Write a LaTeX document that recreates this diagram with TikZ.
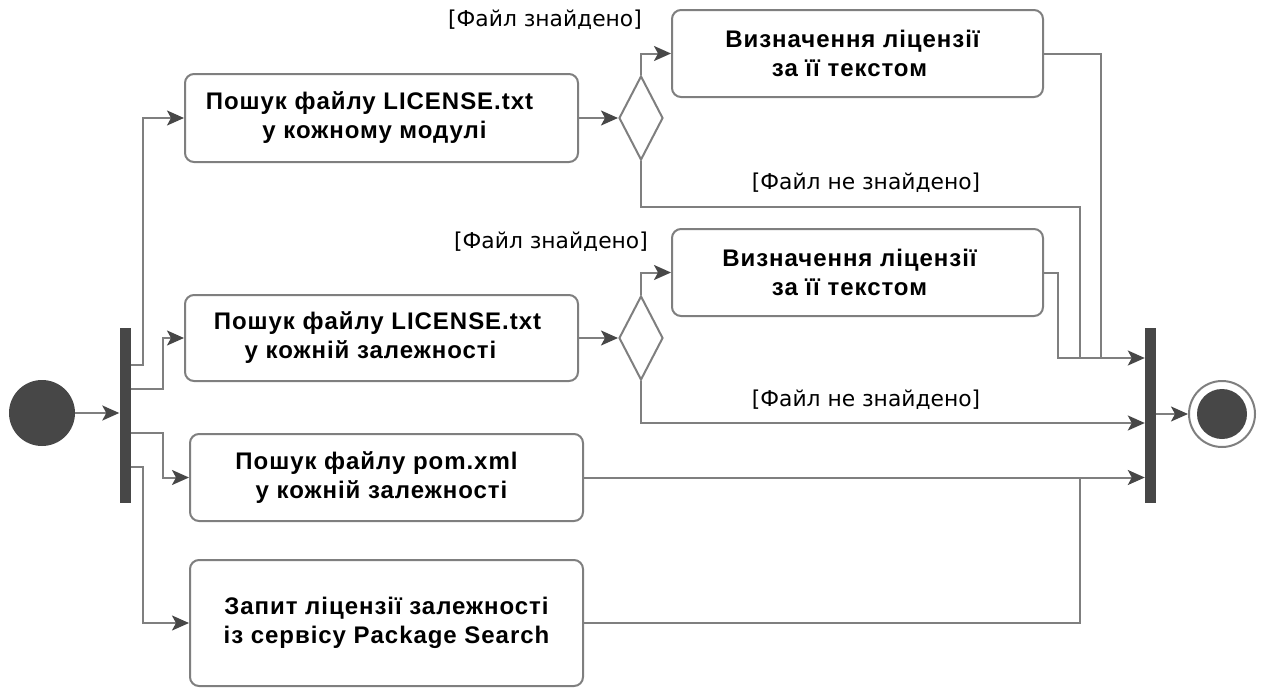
\documentclass[tikz,border=0pt]{standalone}
\usepackage{fontspec}
\setmainfont{Liberation Sans}
\newfontfamily\guardfont{DejaVu Sans}
\usetikzlibrary{arrows.meta,shapes.geometric}
\definecolor{ink}{HTML}{474747}
\definecolor{wire}{HTML}{7F7F7F}
\begin{document}
\begin{tikzpicture}[x=1pt,y=-1pt,
  act/.style={draw=wire, line width=2pt, rounded corners=9pt, fill=white,
    font=\addfontfeatures{LetterSpace=4}\bfseries\fontsize{24}{29}\selectfont, align=center, inner sep=0pt},
  choice/.style={diamond, draw=wire, line width=2pt, fill=white, inner sep=0pt,
    minimum width=44pt, minimum height=84pt},
  syncbar/.style={rectangle, fill=ink, draw=none, inner sep=0pt, minimum width=11pt, minimum height=175pt},
  flow/.style={draw=wire, line width=2pt, -{Stealth[length=17pt,width=15pt,inset=4pt,color=ink]}},
  wireline/.style={draw=wire, line width=2pt},
  guard/.style={font=\guardfont\fontsize{21.8}{24}\selectfont, text=black, inner sep=0pt}]
\useasboundingbox (0,0) rectangle (1261,688);

% start and end points
\node[circle, fill=ink, minimum size=66pt, inner sep=0pt] (init) at (42,413) {};
\node[syncbar] (fork) at (125,415) {};
\node[syncbar] (join) at (1150.5,415) {};
\node[circle, draw=wire, line width=2pt, fill=white, minimum size=66pt, inner sep=0pt] (final) at (1222,414) {};
\node[circle, fill=ink, minimum size=50pt, inner sep=0pt] at (final) {};

% actions
\node[act, minimum width=393pt, minimum height=88pt] (b1) at (381.5,118) {Пошук файлу LICENSE.txt\hspace*{24pt}\\у кожному модулі\hspace*{14pt}};
\node[act, minimum width=393pt, minimum height=86pt] (b2) at (381.5,338) {Пошук файлу LICENSE.txt\hspace*{8pt}\\у кожній залежності\hspace*{22pt}};
\node[act, minimum width=393pt, minimum height=87pt] (b3) at (386.5,477.5) {Пошук файлу pom.xml\hspace*{20pt}\\у кожній залежності\hspace*{10pt}};
\node[act, minimum width=393pt, minimum height=126pt] (b4) at (386.5,623) {Запит ліцензії залежності\\із сервісу Package Search};
\node[act, minimum width=371pt, minimum height=87pt] (b5) at (857.5,53.5) {Визначення ліцензії\hspace*{10pt}\\за її текстом\hspace*{16pt}};
\node[act, minimum width=371pt, minimum height=87pt] (b6) at (857.5,272.5) {Визначення ліцензії\hspace*{16pt}\\за її текстом\hspace*{16pt}};

% decisions
\node[choice] (d1) at (641,118) {};
\node[choice] (d2) at (641,338) {};

% guards
\node[guard] at (545,20) {[Файл знайдено]};
\node[guard] at (866,183) {[Файл не знайдено]};
\node[guard] at (551,242) {[Файл знайдено]};
\node[guard] at (866,400) {[Файл не знайдено]};

% fork
\draw[flow] (init.east) -- (init.east -| fork.west);
\draw[flow] (fork.east |- 0,365) -- (143,365) |- (b1.west);
\draw[flow] (fork.east |- 0,389) -- (163,389) |- (b2.west);
\draw[flow] (fork.east |- 0,433) -- (163,433) |- (b3.west);
\draw[flow] (fork.east |- 0,467) -- (143,467) |- (b4.west);

% decisions
\draw[flow] (b1.east) -- (d1.west);
\draw[flow] (b2.east) -- (d2.west);
\draw[flow] (d1.north) |- (b5.west);
\draw[flow] (d2.north) |- (b6.west);

% join
\draw[wireline] (d1.south) |- (1080,207) -- (1080,358);
\draw[wireline] (b5.east) -| (1101,358);
\draw[flow] (b6.east) -- (1058,272.5) |- (join.west |- 0,358);
\draw[flow] (d2.south) |- (join.west |- 0,423);
\draw[flow] (b3.east) -- (join.west |- 0,477.5);
\draw[wireline] (b4.east) -| (1080,477.5);
\draw[flow] (join.east |- 0,414) -- (final.west);
\end{tikzpicture}
\end{document}
